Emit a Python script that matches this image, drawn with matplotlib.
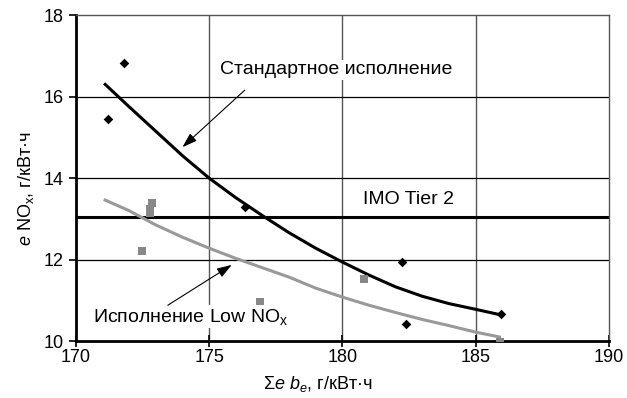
import matplotlib.pyplot as plt

plt.rcParams['font.family'] = ['Liberation Sans', 'DejaVu Sans']
plt.rcParams['mathtext.fontset'] = 'custom'
plt.rcParams['mathtext.rm'] = 'Liberation Sans'
plt.rcParams['mathtext.it'] = 'Liberation Sans:italic'

# measured points
std_x = [171.2, 171.8, 176.35, 182.25, 182.4, 185.95]
std_y = [15.45, 16.82, 13.3, 11.95, 10.42, 10.66]
low_x = [172.5, 172.85, 172.8, 172.8, 176.9, 180.8, 185.9]
low_y = [12.2, 13.4, 13.25, 13.15, 10.97, 11.52, 9.98]

# fitted trend curves
fit_x = [171.1, 172, 173, 174, 175, 176, 177, 178, 179, 180, 181, 182, 183, 184, 185, 185.9]
std_fit = [16.3, 15.75, 15.15, 14.55, 14.0, 13.52, 13.08, 12.66, 12.28, 11.94,
           11.62, 11.33, 11.1, 10.92, 10.78, 10.65]
low_fit = [13.46, 13.2, 12.85, 12.55, 12.28, 12.03, 11.8, 11.57, 11.3, 11.08,
           10.88, 10.7, 10.53, 10.38, 10.22, 10.1]

imo_level = 13.05

fig = plt.figure(figsize=(6.27, 3.98), dpi=100)
ax = fig.add_axes([0.121, 0.143, 0.85, 0.819])

ax.set_xlim(170, 190)
ax.set_ylim(10, 18)
ax.set_xticks([170, 175, 180, 185, 190])
ax.set_yticks([10, 12, 14, 16, 18])

for x in [175, 180, 185]:
    ax.axvline(x, color='#555555', lw=1, zorder=1)
for y in [12, 14, 16]:
    ax.axhline(y, color='black', lw=0.9, zorder=1)

ax.axhline(imo_level, color='black', lw=2.2, zorder=2)

ax.plot(fit_x, low_fit, color='#999999', lw=2.2, zorder=3)
ax.plot(fit_x, std_fit, color='black', lw=2.2, zorder=3)
ax.scatter(low_x, low_y, marker='s', s=34, color='#888888', zorder=4, linewidths=0)
ax.scatter(std_x, std_y, marker='D', s=24, color='black', zorder=4, linewidths=0)

box = dict(facecolor='white', edgecolor='none', pad=1)
ax.text(179.76, 16.66, 'Стандартное исполнение', ha='center', va='center',
        fontsize=14, bbox=box, zorder=5)
ax.text(182.5, 13.48, 'IMO Tier 2', ha='center', va='center',
        fontsize=14, bbox=box, zorder=5)
ax.text(174.3, 10.6, 'Исполнение Low NO$_\\mathregular{x}$', ha='center', va='center',
        fontsize=14, bbox=box, zorder=5)

arrow = dict(arrowstyle='-|>,head_length=0.9,head_width=0.3', color='black', lw=0.8,
             shrinkA=0, shrinkB=0)
ax.annotate('', xy=(174.0, 14.76), xytext=(176.34, 16.16), arrowprops=arrow, zorder=6)
ax.annotate('', xy=(175.85, 11.87), xytext=(173.45, 10.88), arrowprops=arrow, zorder=6)

for side in ['left', 'bottom']:
    ax.spines[side].set_linewidth(2)
    ax.spines[side].set_color('black')
for side in ['top', 'right']:
    ax.spines[side].set_linewidth(1)
    ax.spines[side].set_color('#555555')

ax.tick_params(axis='x', direction='inout', length=8, width=1.2, labelsize=13, pad=2)
ax.tick_params(axis='y', direction='out', length=5, width=1.2, labelsize=13)

ax.set_xlabel('Σ$\\mathit{e}$ $\\mathit{b_e}$, г/кВт·ч', fontsize=13)
ax.set_ylabel('$\\mathit{e}$ NO$_\\mathregular{x}$, г/кВт·ч', fontsize=13)
ax.xaxis.set_label_coords(0.454, -0.10)
ax.yaxis.set_label_coords(-0.075, 0.469)

fig.savefig('out.png', dpi=100)
